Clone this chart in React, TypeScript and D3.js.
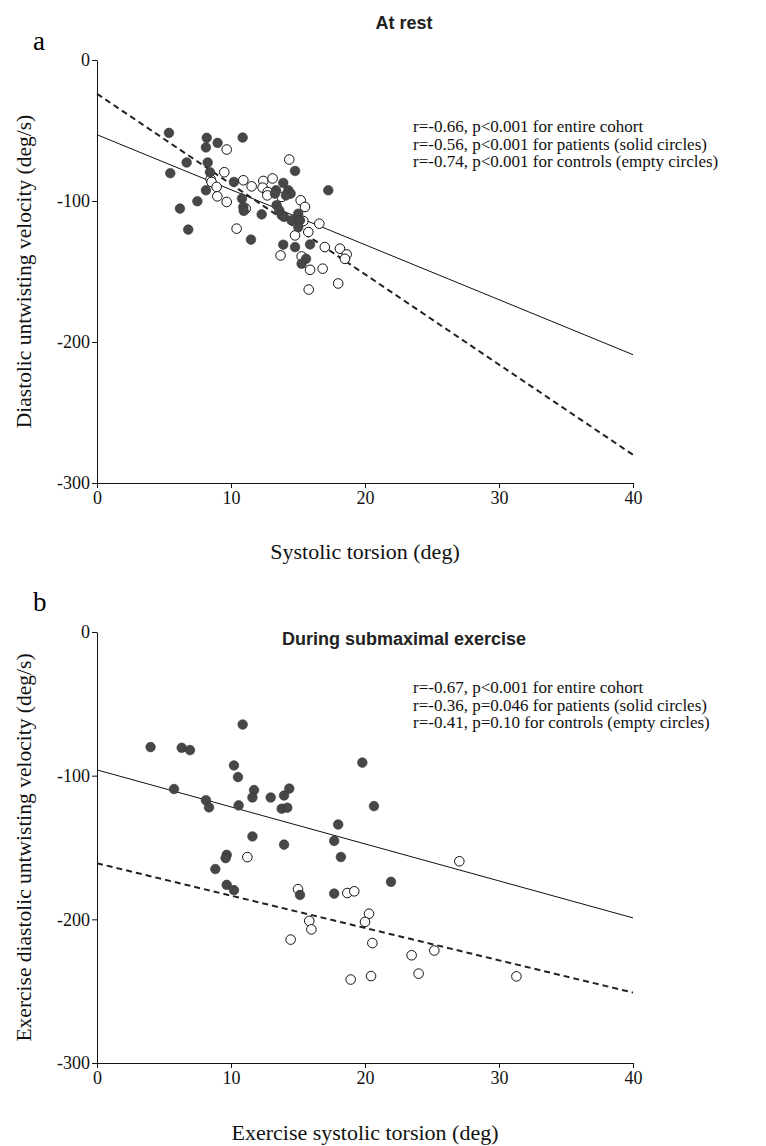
import React, { useEffect, useRef } from 'react';
import * as d3 from 'd3';

// panel a: at rest  [systolic torsion, untwisting velocity]
const restPatients: [number, number][] = [
  [5.37, -51.7], [8.19, -55.2], [8.13, -62], [9.0, -58.8], [10.87, -55], [6.69, -72.7],
  [8.26, -72.7], [5.47, -80.3], [8.43, -79.6], [10.22, -86.5], [8.13, -92.4], [7.49, -100.2],
  [6.19, -105.4], [10.82, -98.3], [10.92, -104.2], [10.95, -107], [12.29, -109.5], [6.81, -120.3],
  [11.49, -127.4], [14.78, -78.7], [17.26, -92.4], [13.36, -92.4], [13.9, -87.2], [14.28, -92.4],
  [14.45, -94.8], [14.1, -96], [13.28, -94.8], [13.4, -103], [13.6, -106.6], [13.78, -110],
  [13.96, -111.3], [15.02, -109], [14.53, -113.7], [15.15, -113.7], [15.02, -118.5], [13.9, -131],
  [14.78, -132.7], [15.9, -130.8], [15.6, -141], [15.27, -144.5],
];
const restControls: [number, number][] = [
  [9.68, -63.5], [9.5, -79.6], [8.48, -84.6], [8.55, -86.5], [10.92, -85.3], [11.54, -89.6],
  [12.41, -85.8], [12.36, -90.5], [12.74, -93.6], [8.93, -90], [8.98, -96.7], [9.68, -100.7],
  [11.1, -105.4], [10.42, -119.6], [14.35, -70.6], [13.1, -84], [12.71, -96], [13.78, -97.1],
  [15.2, -99.5], [15.52, -104.2], [15.4, -114.2], [16.59, -116.1], [15.77, -122], [14.78, -124.4],
  [13.7, -138.6], [15.27, -139.3], [17.0, -132.7], [18.13, -133.8], [18.63, -137.9], [18.5, -141],
  [16.84, -148], [15.9, -148.8], [15.8, -162.8], [18.0, -158.5],
];
// regression lines, [x, y] at both ends
const restSolid: [number, number][] = [[0, -53], [40, -209]];
const restDashed: [number, number][] = [[0, -24], [40, -280]];
const restNotes = [
  'r=-0.66, p<0.001 for entire cohort',
  'r=-0.56, p<0.001 for patients (solid circles)',
  'r=-0.74, p<0.001 for controls (empty circles)',
];

// panel b: during submaximal exercise
const exPatients: [number, number][] = [
  [10.87, -64.4], [4.0, -80.1], [6.32, -80.6], [6.94, -82.2], [10.22, -92.9], [10.52, -101],
  [5.75, -109.3], [11.72, -110], [11.6, -115.2], [14.35, -109], [13.96, -113.8], [12.96, -115.2],
  [8.13, -117.1], [8.36, -122.1], [10.57, -120.7], [13.78, -123], [14.2, -122.3], [11.6, -142.3],
  [13.96, -148], [9.68, -155.1], [9.6, -157.4], [8.83, -165], [9.68, -176], [10.22, -179.7],
  [15.15, -183], [19.8, -90.9], [20.67, -121.2], [18.0, -134], [17.7, -145.4], [18.2, -156.6],
  [21.94, -173.9], [17.7, -182.1],
];
const exControls: [number, number][] = [
  [11.22, -156.7], [15.0, -179], [27.04, -159.6], [18.68, -181.7], [19.2, -180.5], [20.3, -196.1],
  [20.0, -201.8], [15.84, -201.1], [16.0, -207], [14.45, -214.1], [20.55, -216.5], [23.48, -225],
  [25.17, -221.7], [18.93, -241.9], [20.45, -239.5], [24.0, -237.8], [31.3, -239.7],
];
const exSolid: [number, number][] = [[0, -96], [40, -199]];
const exDashed: [number, number][] = [[0, -161], [40, -251]];
const exNotes = [
  'r=-0.67, p<0.001 for entire cohort',
  'r=-0.36, p=0.046 for patients (solid circles)',
  'r=-0.41, p=0.10 for controls (empty circles)',
];

const xTicks = [0, 10, 20, 30, 40];
const yTicks = [0, -100, -200, -300];

const serif = '"Liberation Serif", "DejaVu Serif", serif';
const sans = '"Liberation Sans", Arial, sans-serif';

const App: React.FC = () => {
  const svgRef = useRef<SVGSVGElement>(null);

  useEffect(() => {
    document.body.style.margin = '0';
    if (!svgRef.current) return;
    const svg = d3.select(svgRef.current);
    svg.selectAll('*').remove();

    const panels = [
      {
        letter: 'a', letterY: 50, title: 'At rest', titleY: 29,
        top: 60, bottom: 483, notesY: 132,
        xLabel: 'Systolic torsion (deg)', xLabelY: 559,
        yLabel: 'Diastolic untwisting velocity (deg/s)',
        patients: restPatients, controls: restControls,
        solid: restSolid, dashed: restDashed, notes: restNotes,
      },
      {
        letter: 'b', letterY: 611, title: 'During submaximal exercise', titleY: 645,
        top: 632, bottom: 1063, notesY: 693,
        xLabel: 'Exercise systolic torsion (deg)', xLabelY: 1140,
        yLabel: 'Exercise diastolic untwisting velocity (deg/s)',
        patients: exPatients, controls: exControls,
        solid: exSolid, dashed: exDashed, notes: exNotes,
      },
    ];

    const left = 97;
    const right = 633;

    panels.forEach(p => {
      const x = d3.scaleLinear().domain([0, 40]).range([left, right]);
      const y = d3.scaleLinear().domain([-300, 0]).range([p.bottom, p.top]);
      const g = svg.append('g');

      g.append('text')
        .attr('x', 33).attr('y', p.letterY)
        .attr('font-family', serif).attr('font-size', 27)
        .text(p.letter);

      g.append('text')
        .attr('x', 404).attr('y', p.titleY)
        .attr('text-anchor', 'middle')
        .attr('font-family', sans).attr('font-weight', 'bold').attr('font-size', 18)
        .attr('fill', '#222')
        .text(p.title);

      const xAxis = g.append('g')
        .attr('transform', `translate(0,${p.bottom})`)
        .call(d3.axisBottom(x).tickValues(xTicks).tickFormat(d => String(d))
          .tickSize(5).tickSizeOuter(0).tickPadding(3));
      const yAxis = g.append('g')
        .attr('transform', `translate(${left},0)`)
        .call(d3.axisLeft(y).tickValues(yTicks).tickFormat(d => String(d))
          .tickSize(5).tickSizeOuter(0).tickPadding(2));
      [xAxis, yAxis].forEach(a => {
        a.selectAll('text').attr('font-family', serif).attr('font-size', 18).attr('fill', '#111');
        a.selectAll('line').attr('stroke', '#111');
        a.select('.domain').attr('stroke', '#111');
      });

      g.append('text')
        .attr('x', 365).attr('y', p.xLabelY)
        .attr('text-anchor', 'middle')
        .attr('font-family', serif).attr('font-size', 22)
        .attr('fill', '#111')
        .text(p.xLabel);

      const yMid = (p.top + p.bottom) / 2;
      g.append('text')
        .attr('transform', `translate(31,${yMid}) rotate(-90)`)
        .attr('text-anchor', 'middle')
        .attr('font-family', serif).attr('font-size', 21.5)
        .attr('fill', '#111')
        .text(p.yLabel);

      const line = d3.line<[number, number]>().x(d => x(d[0])).y(d => y(d[1]));
      g.append('path').datum(p.solid)
        .attr('d', line).attr('fill', 'none').attr('stroke', '#111').attr('stroke-width', 1);
      g.append('path').datum(p.dashed)
        .attr('d', line).attr('fill', 'none').attr('stroke', '#222')
        .attr('stroke-width', 2).attr('stroke-dasharray', '6,4');

      g.append('g').selectAll('circle').data(p.controls).join('circle')
        .attr('cx', d => x(d[0])).attr('cy', d => y(d[1])).attr('r', 4.8)
        .attr('fill', 'white').attr('stroke', '#111').attr('stroke-width', 1);
      g.append('g').selectAll('circle').data(p.patients).join('circle')
        .attr('cx', d => x(d[0])).attr('cy', d => y(d[1])).attr('r', 4.8)
        .attr('fill', '#474747').attr('stroke', '#333').attr('stroke-width', 0.6);

      g.append('g').selectAll('text').data(p.notes).join('text')
        .attr('x', 413).attr('y', (_, i) => p.notesY + i * 17.5)
        .attr('font-family', serif).attr('font-size', 17).attr('fill', '#111')
        .text(d => d);
    });
  }, []);

  return <svg ref={svgRef} width={766} height={1146} style={{ display: 'block', background: 'white' }} />;
};

export default App;
